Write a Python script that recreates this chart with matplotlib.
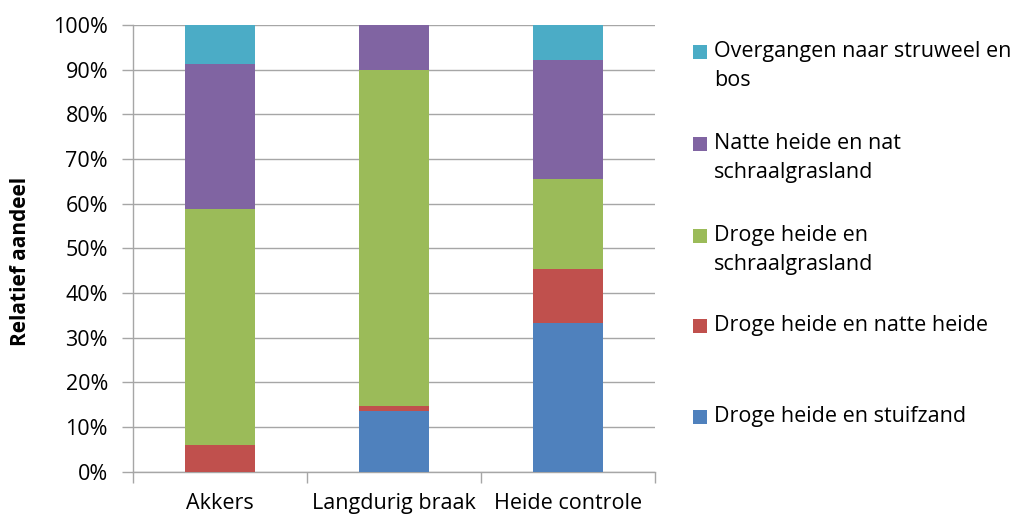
import matplotlib
matplotlib.use("Agg")
import matplotlib.pyplot as plt
from matplotlib.patches import Rectangle
from matplotlib.ticker import FixedLocator, PercentFormatter
import numpy as np

plt.rcParams['font.family'] = ['Open Sans', 'DejaVu Sans']

categories = ["Akkers", "Langdurig braak", "Heide controle"]
series_names = [
    "Droge heide en stuifzand",
    "Droge heide en natte heide",
    "Droge heide en\nschraalgrasland",
    "Natte heide en nat\nschraalgrasland",
    "Overgangen naar struweel en\nbos",
]
droge_stuifzand = [0.0, 13.6, 33.4]
droge_natte = [6.0, 1.0, 12.0]
droge_schraal = [52.8, 75.3, 20.1]
natte_schraal = [32.4, 10.1, 26.6]
overgangen = [8.8, 0.0, 7.9]
series_values = [droge_stuifzand, droge_natte, droge_schraal, natte_schraal, overgangen]
colors = ["#4F81BD", "#C0504D", "#9BBB59", "#8064A2", "#4BACC6"]
y_ticks = [0, 10, 20, 30, 40, 50, 60, 70, 80, 90, 100]

W, H = 1013, 514
fig = plt.figure(figsize=(W / 100, H / 100), dpi=100)
ax = fig.add_axes([133 / W, 1 - 471.7 / H, (655 - 133) / W, (471.7 - 25) / H])

x = np.arange(len(categories))
bottom = np.zeros(len(categories))
for vals, col in zip(series_values, colors):
    v = np.array(vals)
    ax.bar(x, v, width=0.40, bottom=bottom, color=col, zorder=3, linewidth=0)
    bottom += v

ax.set_xlim(-0.5, len(categories) - 0.5)
ax.set_ylim(0, 100)
ax.yaxis.set_major_locator(FixedLocator(y_ticks))
ax.yaxis.set_major_formatter(PercentFormatter(decimals=0))
ax.grid(axis='y', color='#A6A6A6', linewidth=1.0, zorder=0)
ax.set_axisbelow(True)

ax.set_xticks(x)
ax.set_xticklabels(categories, fontsize=15.5)
ax.tick_params(axis='x', which='major', length=0, pad=15)
ax.xaxis.set_minor_locator(FixedLocator(np.arange(len(categories) + 1) - 0.5))
ax.tick_params(axis='x', which='minor', length=8, color='#A6A6A6', width=1)
ax.tick_params(axis='y', length=8, color='#A6A6A6', width=1, labelsize=15.5, pad=10)

for s in ['top', 'right']:
    ax.spines[s].set_visible(False)
for s in ['left', 'bottom']:
    ax.spines[s].set_color('#A6A6A6')
    ax.spines[s].set_linewidth(1.0)

fig.text(20 / W, 1 - 261 / H, "Relatief aandeel", rotation=90, fontsize=15,
         fontweight='bold', ha='center', va='center')

# legend (reverse order), handles aligned with first text line
first_line_y = [417, 326, 236, 144, 52]
for name, col, yc in zip(series_names, colors, first_line_y):
    fig.add_artist(Rectangle((693 / W, 1 - (yc + 7) / H), 14 / W, 14 / H,
                             transform=fig.transFigure, color=col, lw=0))
    fig.text(714 / W, 1 - (yc - 11) / H, name, fontsize=15.5, ha='left', va='top',
             linespacing=1.5)

fig.savefig("out.png", dpi=100)
